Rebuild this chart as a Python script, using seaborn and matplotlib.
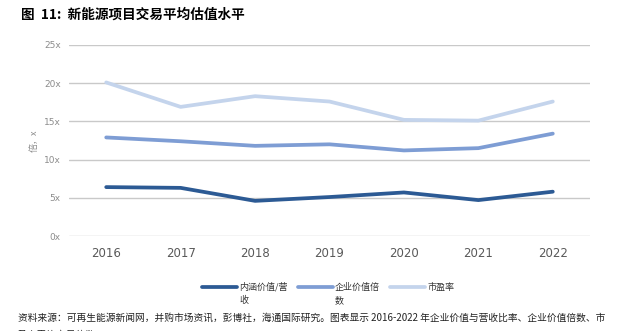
import matplotlib
matplotlib.use("Agg")
import matplotlib.pyplot as plt
import seaborn as sns
import pandas as pd

years = ["2016", "2017", "2018", "2019", "2020", "2021", "2022"]
ev_revenue = [6.4, 6.3, 4.6, 5.1, 5.7, 4.7, 5.8]
ev_multiple = [12.9, 12.4, 11.8, 12.0, 11.2, 11.5, 13.4]
pe_ratio = [20.1, 16.9, 18.3, 17.6, 15.2, 15.1, 17.6]
series_names = ["内涵价值/营收", "企业价值倍数", "市盈率"]
# legend labels wrap onto a second line under the text, handles stay on the first line
label_first = ["内涵价值/营", "企业价值倍", "市盈率"]
label_rest = ["收", "数", ""]
y_ticks = [0, 5, 10, 15, 20, 25]
y_tick_labels = ["0x", "5x", "10x", "15x", "20x", "25x"]

sns.set_theme(style="white")
plt.rcParams["font.family"] = ["Noto Sans CJK SC", "DejaVu Sans"]

df = pd.DataFrame({
    "year": years * 3,
    "value": ev_revenue + ev_multiple + pe_ratio,
    "series": [series_names[0]] * 7 + [series_names[1]] * 7 + [series_names[2]] * 7,
})

palette = {series_names[0]: "#2C5A94", series_names[1]: "#7E9DD4", series_names[2]: "#C4D4EC"}

fig = plt.figure(figsize=(6.31, 3.31), dpi=100)
ax = fig.add_axes([69 / 631, 1 - 236 / 331, (590 - 69) / 631, (236 - 45) / 331])

sns.lineplot(data=df, x="year", y="value", hue="series", palette=palette,
             linewidth=2.7, ax=ax, sort=False, legend=False)

ax.set_xlim(-0.5, 6.5)
ax.set_ylim(0, 25)
ax.set_yticks(y_ticks)
ax.set_yticklabels(y_tick_labels, fontsize=6.5, color="#8C8C8C", family=["DejaVu Sans"])
ax.tick_params(axis="x", labelsize=8.5, colors="#595959", length=0, pad=8)
ax.tick_params(axis="y", length=0, pad=6)
for lab in ax.get_xticklabels():
    lab.set_family(["DejaVu Sans"])
ax.yaxis.grid(True, color="#C9C9C9", linewidth=1.0)
ax.set_axisbelow(True)
for s in ax.spines.values():
    s.set_visible(False)
ax.set_xlabel("")
ax.set_ylabel("倍，x", fontsize=6.5, color="#8C8C8C", labelpad=4)

handles = [plt.Line2D([], [], color=palette[n], linewidth=2.7) for n in series_names]
leg = fig.legend(handles, label_first, loc="center", bbox_to_anchor=(0.52, 1 - 287 / 331), ncol=3,
                 frameon=False, fontsize=6.5, handlelength=3.9, columnspacing=1.1,
                 handletextpad=0.25, labelcolor="#333333")

fig.canvas.draw()
renderer = fig.canvas.get_renderer()
inv = fig.transFigure.inverted()
for txt, rest in zip(leg.get_texts(), label_rest):
    if not rest:
        continue
    bb = txt.get_window_extent(renderer)
    x0, y0 = inv.transform((bb.x0, bb.y0))
    fig.text(x0, y0 - 0.012, rest, fontsize=6.5, color="#333333", ha="left", va="top")

fig.text(0.033, 0.955, "图  11:  新能源项目交易平均估值水平", fontsize=9.8, fontweight="bold",
         color="#000000", va="center")
fig.text(0.028, 0.04, "资料来源：可再生能源新闻网，并购市场资讯，彭博社，海通国际研究。图表显示 2016-2022 年企业价值与营收比率、企业价值倍数、市",
         fontsize=7.0, color="#222222", va="center")
fig.text(0.028, -0.013, "盈率平均交易倍数", fontsize=7.0, color="#222222", va="center")

fig.savefig("out.png", dpi=100)
